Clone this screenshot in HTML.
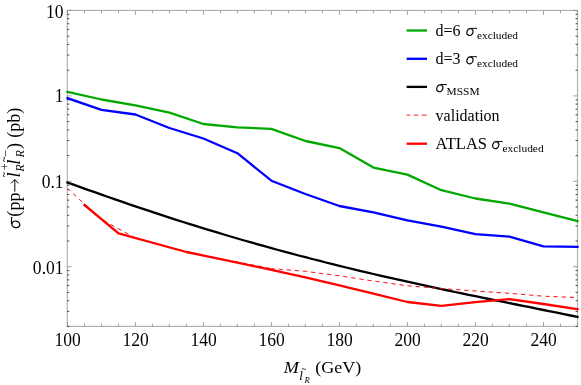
<!DOCTYPE html>
<html><head><meta charset="utf-8"><title>plot</title>
<style>html,body{margin:0;padding:0;background:#fff;}svg{display:block;will-change:transform;}text{font-family:"Liberation Serif",serif;fill:#000;}</style>
</head><body>
<svg width="581" height="385" viewBox="0 0 581 385">
<rect width="581" height="385" fill="#fff"/>
<rect x="67.3" y="10.45" width="510.2" height="315.95" stroke="#b2b2b2" stroke-width="1.2" fill="none"/>
<g stroke="#8a8a8a" stroke-width="0.8" fill="none">
<path d="M67.5 326.4v-4.4M67.5 10.45v4.4"/>
<path d="M84.5 326.4v-2.8M84.5 10.45v2.8"/>
<path d="M101.5 326.4v-2.8M101.5 10.45v2.8"/>
<path d="M118.5 326.4v-2.8M118.5 10.45v2.8"/>
<path d="M135.4 326.4v-4.4M135.4 10.45v4.4"/>
<path d="M152.4 326.4v-2.8M152.4 10.45v2.8"/>
<path d="M169.4 326.4v-2.8M169.4 10.45v2.8"/>
<path d="M186.4 326.4v-2.8M186.4 10.45v2.8"/>
<path d="M203.4 326.4v-4.4M203.4 10.45v4.4"/>
<path d="M220.4 326.4v-2.8M220.4 10.45v2.8"/>
<path d="M237.4 326.4v-2.8M237.4 10.45v2.8"/>
<path d="M254.4 326.4v-2.8M254.4 10.45v2.8"/>
<path d="M271.4 326.4v-4.4M271.4 10.45v4.4"/>
<path d="M288.4 326.4v-2.8M288.4 10.45v2.8"/>
<path d="M305.4 326.4v-2.8M305.4 10.45v2.8"/>
<path d="M322.4 326.4v-2.8M322.4 10.45v2.8"/>
<path d="M339.4 326.4v-4.4M339.4 10.45v4.4"/>
<path d="M356.4 326.4v-2.8M356.4 10.45v2.8"/>
<path d="M373.4 326.4v-2.8M373.4 10.45v2.8"/>
<path d="M390.4 326.4v-2.8M390.4 10.45v2.8"/>
<path d="M407.4 326.4v-4.4M407.4 10.45v4.4"/>
<path d="M424.4 326.4v-2.8M424.4 10.45v2.8"/>
<path d="M441.4 326.4v-2.8M441.4 10.45v2.8"/>
<path d="M458.4 326.4v-2.8M458.4 10.45v2.8"/>
<path d="M475.4 326.4v-4.4M475.4 10.45v4.4"/>
<path d="M492.4 326.4v-2.8M492.4 10.45v2.8"/>
<path d="M509.4 326.4v-2.8M509.4 10.45v2.8"/>
<path d="M526.5 326.4v-2.8M526.5 10.45v2.8"/>
<path d="M543.5 326.4v-4.4M543.5 10.45v4.4"/>
<path d="M560.5 326.4v-2.8M560.5 10.45v2.8"/>
<path d="M577.5 326.4v-2.8M577.5 10.45v2.8"/>
</g>
<path d="M67.3 326.4h1.9M577.5 326.4h-1.9" stroke="#262626" stroke-width="0.9" fill="none"/>
<path d="M67.3 311.4h1.9M577.5 311.4h-1.9" stroke="#262626" stroke-width="0.9" fill="none"/>
<path d="M67.3 300.7h1.9M577.5 300.7h-1.9" stroke="#262626" stroke-width="0.9" fill="none"/>
<path d="M67.3 292.4h1.9M577.5 292.4h-1.9" stroke="#262626" stroke-width="0.9" fill="none"/>
<path d="M67.3 285.6h1.9M577.5 285.6h-1.9" stroke="#262626" stroke-width="0.9" fill="none"/>
<path d="M67.3 279.9h1.9M577.5 279.9h-1.9" stroke="#262626" stroke-width="0.9" fill="none"/>
<path d="M67.3 275.0h1.9M577.5 275.0h-1.9" stroke="#262626" stroke-width="0.9" fill="none"/>
<path d="M67.3 270.6h1.9M577.5 270.6h-1.9" stroke="#262626" stroke-width="0.9" fill="none"/>
<path d="M67.3 266.7h4.4M577.5 266.7h-4.4" stroke="#8a8a8a" stroke-width="0.8" fill="none"/>
<path d="M67.3 241.0h1.9M577.5 241.0h-1.9" stroke="#262626" stroke-width="0.9" fill="none"/>
<path d="M67.3 225.9h1.9M577.5 225.9h-1.9" stroke="#262626" stroke-width="0.9" fill="none"/>
<path d="M67.3 215.3h1.9M577.5 215.3h-1.9" stroke="#262626" stroke-width="0.9" fill="none"/>
<path d="M67.3 207.0h1.9M577.5 207.0h-1.9" stroke="#262626" stroke-width="0.9" fill="none"/>
<path d="M67.3 200.2h1.9M577.5 200.2h-1.9" stroke="#262626" stroke-width="0.9" fill="none"/>
<path d="M67.3 194.5h1.9M577.5 194.5h-1.9" stroke="#262626" stroke-width="0.9" fill="none"/>
<path d="M67.3 189.6h1.9M577.5 189.6h-1.9" stroke="#262626" stroke-width="0.9" fill="none"/>
<path d="M67.3 185.2h1.9M577.5 185.2h-1.9" stroke="#262626" stroke-width="0.9" fill="none"/>
<path d="M67.3 181.3h4.4M577.5 181.3h-4.4" stroke="#8a8a8a" stroke-width="0.8" fill="none"/>
<path d="M67.3 155.6h1.9M577.5 155.6h-1.9" stroke="#262626" stroke-width="0.9" fill="none"/>
<path d="M67.3 140.5h1.9M577.5 140.5h-1.9" stroke="#262626" stroke-width="0.9" fill="none"/>
<path d="M67.3 129.9h1.9M577.5 129.9h-1.9" stroke="#262626" stroke-width="0.9" fill="none"/>
<path d="M67.3 121.6h1.9M577.5 121.6h-1.9" stroke="#262626" stroke-width="0.9" fill="none"/>
<path d="M67.3 114.8h1.9M577.5 114.8h-1.9" stroke="#262626" stroke-width="0.9" fill="none"/>
<path d="M67.3 109.1h1.9M577.5 109.1h-1.9" stroke="#262626" stroke-width="0.9" fill="none"/>
<path d="M67.3 104.1h1.9M577.5 104.1h-1.9" stroke="#262626" stroke-width="0.9" fill="none"/>
<path d="M67.3 99.8h1.9M577.5 99.8h-1.9" stroke="#262626" stroke-width="0.9" fill="none"/>
<path d="M67.3 95.9h4.4M577.5 95.9h-4.4" stroke="#8a8a8a" stroke-width="0.8" fill="none"/>
<path d="M67.3 70.2h1.9M577.5 70.2h-1.9" stroke="#262626" stroke-width="0.9" fill="none"/>
<path d="M67.3 55.1h1.9M577.5 55.1h-1.9" stroke="#262626" stroke-width="0.9" fill="none"/>
<path d="M67.3 44.4h1.9M577.5 44.4h-1.9" stroke="#262626" stroke-width="0.9" fill="none"/>
<path d="M67.3 36.2h1.9M577.5 36.2h-1.9" stroke="#262626" stroke-width="0.9" fill="none"/>
<path d="M67.3 29.4h1.9M577.5 29.4h-1.9" stroke="#262626" stroke-width="0.9" fill="none"/>
<path d="M67.3 23.7h1.9M577.5 23.7h-1.9" stroke="#262626" stroke-width="0.9" fill="none"/>
<path d="M67.3 18.7h1.9M577.5 18.7h-1.9" stroke="#262626" stroke-width="0.9" fill="none"/>
<path d="M67.3 14.4h1.9M577.5 14.4h-1.9" stroke="#262626" stroke-width="0.9" fill="none"/>
<path d="M67.3 10.4h4.4M577.5 10.4h-4.4" stroke="#8a8a8a" stroke-width="0.8" fill="none"/>
<g fill="none" stroke-linejoin="round">
<polyline points="67.5,91.9 101.5,99.5 135.4,105.4 169.4,112.7 203.4,124.0 237.4,127.3 271.4,128.8 305.4,141.0 339.4,148.1 373.4,167.6 407.4,174.6 441.4,190.2 475.4,198.5 509.4,203.7 543.5,212.3 577.5,221.0" stroke="#00a800" stroke-width="2.3" stroke-linecap="square"/>
<polyline points="67.5,98.2 101.5,109.8 135.4,114.5 169.4,128.0 203.4,138.5 237.4,153.2 271.4,180.7 305.4,194.0 339.4,206.0 373.4,212.3 407.4,220.3 441.4,226.6 475.4,234.1 509.4,236.7 543.5,246.3 577.5,246.8" stroke="#0000ff" stroke-width="2.3" stroke-linecap="square"/>
<polyline points="67.5,182.5 74.2,184.9 81.0,187.4 87.8,189.8 94.7,192.2 101.5,194.6 108.2,197.0 115.1,199.4 121.8,201.7 128.7,204.1 135.4,206.4 142.2,208.7 149.1,210.9 155.8,213.2 162.7,215.4 169.4,217.6 176.2,219.8 183.1,222.0 189.8,224.1 196.6,226.2 203.4,228.3 210.2,230.4 217.1,232.4 223.9,234.5 230.6,236.5 237.4,238.5 244.2,240.5 251.1,242.4 257.9,244.3 264.6,246.2 271.4,248.1 278.2,250.0 285.1,251.8 291.9,253.7 298.6,255.5 305.4,257.2 312.2,259.0 319.1,260.7 325.8,262.5 332.6,264.2 339.4,265.8 346.2,267.5 353.0,269.1 359.8,270.8 366.6,272.4 373.4,274.0 380.2,275.6 387.0,277.1 393.8,278.7 400.6,280.2 407.4,281.7 414.2,283.2 421.0,284.7 427.8,286.2 434.6,287.6 441.4,289.1 448.2,290.5 455.0,292.0 461.8,293.4 468.6,294.8 475.4,296.2 482.2,297.6 489.0,299.0 495.8,300.4 502.6,301.7 509.4,303.1 516.2,304.5 523.0,305.9 529.9,307.2 536.6,308.6 543.5,310.0 550.2,311.3 557.0,312.7 563.9,314.1 570.6,315.5 577.5,316.9" stroke="#000000" stroke-width="2.3" stroke-linecap="square"/>
<polyline points="67.5,188.6 101.5,219.3 135.4,238.0 169.4,247.6 203.4,255.5 237.4,262.0 271.4,268.6" stroke="#ff0000" stroke-width="0.95" stroke-dasharray="4.3 3.83" stroke-dashoffset="0.7"/>
<polyline points="271.4,268.6 305.4,271.3 339.4,275.8 373.4,281.0 407.4,285.8 441.4,288.5 475.4,291.0 509.4,293.3 543.5,296.2 577.5,297.5" stroke="#ff0000" stroke-width="0.95" stroke-dasharray="4.3 3.83" stroke-dashoffset="0.96"/>
<polyline points="84.5,205.0 118.5,233.3 186.4,252.0 237.4,262.7 271.4,269.8 305.4,277.4 339.4,285.3 373.4,293.6 407.4,302.0 441.4,305.9 475.4,302.2 509.4,299.1 543.5,304.0 577.5,309.2" stroke="#ff0000" stroke-width="2.3" stroke-linecap="square"/>
</g>
<text transform="translate(67.7,346.1) scale(0.95,1)" font-size="18.5" text-anchor="middle">100</text>
<text transform="translate(135.6,346.1) scale(0.95,1)" font-size="18.5" text-anchor="middle">120</text>
<text transform="translate(203.6,346.1) scale(0.95,1)" font-size="18.5" text-anchor="middle">140</text>
<text transform="translate(271.6,346.1) scale(0.95,1)" font-size="18.5" text-anchor="middle">160</text>
<text transform="translate(339.6,346.1) scale(0.95,1)" font-size="18.5" text-anchor="middle">180</text>
<text transform="translate(407.6,346.1) scale(0.95,1)" font-size="18.5" text-anchor="middle">200</text>
<text transform="translate(475.6,346.1) scale(0.95,1)" font-size="18.5" text-anchor="middle">220</text>
<text transform="translate(543.7,346.1) scale(0.95,1)" font-size="18.5" text-anchor="middle">240</text>
<text transform="translate(63.6,17.50) scale(0.95,1)" font-size="18.5" text-anchor="end">10</text>
<text transform="translate(63.6,102.42) scale(0.95,1)" font-size="18.5" text-anchor="end">1</text>
<text transform="translate(63.6,187.83) scale(0.95,1)" font-size="18.5" text-anchor="end">0.1</text>
<text transform="translate(63.6,274.10) scale(0.95,1)" font-size="18.5" text-anchor="end">0.01</text>
<text transform="translate(283.8,373.4) scale(1.04,1)" font-size="17.5" font-style="italic">M</text>
<text x="299.3" y="380.2" font-size="13" font-style="italic">l</text>
<text x="301.5" y="371.6" font-size="8.5" font-weight="bold">~</text>
<text x="304.4" y="383" font-size="8.5" font-style="italic">R</text>
<text transform="translate(315.3,373.4) scale(1.03,1)" font-size="17.5">(GeV)</text>
<g transform="translate(20.1,229.0) rotate(-90)">
<g transform="scale(0.93,1) translate(-0.5,0) scale(1.15625)" fill="none" stroke="#000"><ellipse cx="4.75" cy="-3.7" rx="3.0" ry="3.45" transform="rotate(18 4.75 -3.7)" stroke-width="1.15"/><path d="M5.2 -7.45H11.4" stroke-width="0.95"/><path d="M10.6 -7.45L11.55 -7.0" stroke-width="0.9"/></g>
<text transform="translate(12.2,0) scale(1.0,1)" font-size="18.5">(</text>
<text transform="translate(18.6,0) scale(0.97,1)" font-size="18.5">pp</text>
<path d="M37.3 -5.3H49.2M45.6 -9.1L49.5 -5.3L45.6 -1.5" fill="none" stroke="#000" stroke-width="1"/>
<text transform="translate(51.5,0) scale(1.0,1)" font-size="18.5" font-style="italic">l</text>
<text transform="translate(52.0,-13.0) scale(1,1)" font-size="9.5" font-weight="bold">~</text>
<text transform="translate(58.9,-10.9) scale(1.0,1)" font-size="11.5">+</text>
<text transform="translate(57.3,3.4) scale(0.95,1)" font-size="12.8" font-style="italic">R</text>
<text transform="translate(64.3,0) scale(1.0,1)" font-size="18.5" font-style="italic">l</text>
<text transform="translate(67.2,-13.0) scale(1,1)" font-size="9.5" font-weight="bold">~</text>
<text transform="translate(71.7,-10.4) scale(1.0,1)" font-size="12.5">−</text>
<text transform="translate(71.5,3.4) scale(0.95,1)" font-size="12.8" font-style="italic">R</text>
<text transform="translate(80,0) scale(1.0,1)" font-size="18.5">)</text>
<text transform="translate(91.3,0) scale(0.97,1)" font-size="18.5">(pb)</text>
</g>
<path d="M406.6 30.5H427.0" stroke="#00a800" stroke-width="2.3"/>
<path d="M406.6 58.8H427.0" stroke="#0000ff" stroke-width="2.3"/>
<path d="M406.6 86.9H427.0" stroke="#000" stroke-width="2.3"/>
<path d="M406.6 115.1H410.2M413.7 115.1H418.4M421.7 115.1H426.7" stroke="#ff0000" stroke-width="0.9"/>
<path d="M406.6 143.7H427.0" stroke="#ff0000" stroke-width="2.3"/>
<text transform="translate(435.6,35.8) scale(1.0,1)" font-size="16">d=6</text>
<g transform="translate(465.2,35.8) scale(1.0)" fill="none" stroke="#000"><ellipse cx="4.75" cy="-3.7" rx="3.0" ry="3.45" transform="rotate(18 4.75 -3.7)" stroke-width="1.15"/><path d="M5.2 -7.45H11.4" stroke-width="0.95"/><path d="M10.6 -7.45L11.55 -7.0" stroke-width="0.9"/></g>
<text x="476.9" y="38.5" font-size="11.4">excluded</text>
<text transform="translate(435.6,64.1) scale(1.0,1)" font-size="16">d=3</text>
<g transform="translate(465.2,64.1) scale(1.0)" fill="none" stroke="#000"><ellipse cx="4.75" cy="-3.7" rx="3.0" ry="3.45" transform="rotate(18 4.75 -3.7)" stroke-width="1.15"/><path d="M5.2 -7.45H11.4" stroke-width="0.95"/><path d="M10.6 -7.45L11.55 -7.0" stroke-width="0.9"/></g>
<text x="476.9" y="66.8" font-size="11.4">excluded</text>
<g transform="translate(435.09999999999997,92.0) scale(1.0)" fill="none" stroke="#000"><ellipse cx="4.75" cy="-3.7" rx="3.0" ry="3.45" transform="rotate(18 4.75 -3.7)" stroke-width="1.15"/><path d="M5.2 -7.45H11.4" stroke-width="0.95"/><path d="M10.6 -7.45L11.55 -7.0" stroke-width="0.9"/></g>
<text x="446.6" y="94.7" font-size="11.4">MSSM</text>
<text x="435.6" y="120.6" font-size="16">validation</text>
<text transform="translate(435.6,148.9) scale(1.035,1)" font-size="16">ATLAS</text>
<g transform="translate(491.0,148.9) scale(1.0)" fill="none" stroke="#000"><ellipse cx="4.75" cy="-3.7" rx="3.0" ry="3.45" transform="rotate(18 4.75 -3.7)" stroke-width="1.15"/><path d="M5.2 -7.45H11.4" stroke-width="0.95"/><path d="M10.6 -7.45L11.55 -7.0" stroke-width="0.9"/></g>
<text x="502.5" y="151.6" font-size="11.4">excluded</text>
</svg>
</body></html>
